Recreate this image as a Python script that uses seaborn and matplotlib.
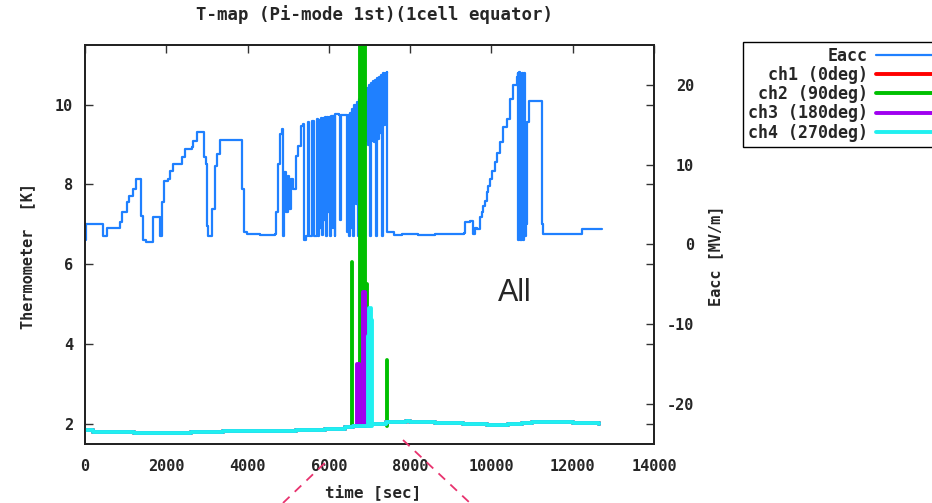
import pandas as pd
import seaborn as sns
import matplotlib.pyplot as plt
from matplotlib.lines import Line2D

# ----------------------------
# Data
# ----------------------------
eacc_t = [0, 25, 420, 440, 540, 545, 810, 860, 910, 1030, 1080, 1180, 1250, 1350,
          1380, 1430, 1500, 1650, 1670, 1800, 1845, 1895, 1945, 2040, 2090, 2165,
          2340, 2385, 2460, 2630, 2655, 2755, 2900, 2930, 2975, 3000, 3025, 3125,
          3200, 3250, 3320, 3840, 3860, 3910, 3985, 4300, 4675, 4700, 4750, 4800,
          4845, 4870, 4895, 4945, 4995, 5020, 5070, 5115, 5190, 5240, 5315, 5360,
          5385, 5435, 5485, 5510, 5585, 5630, 5710, 5740, 5760, 5790, 5810, 5840,
          5860, 5890, 5910, 5940, 5960, 5990, 6010, 6040, 6060, 6090, 6110, 6140,
          6160, 6260, 6270, 6290, 6440, 6450, 6470, 6490, 6510, 6540, 6570, 6600,
          6630, 6660, 6690, 6710, 6740, 6760, 6790, 6810, 6840, 6860, 6890, 6910,
          6940, 6960, 6990, 7010, 7040, 7060, 7090, 7110, 7140, 7160, 7190, 7210,
          7240, 7260, 7290, 7310, 7340, 7360, 7390, 7420, 7440, 7600, 7800, 8200,
          8600, 9330, 9350, 9470, 9545, 9595, 9645, 9715, 9765, 9790, 9840, 9890,
          9915, 9960, 10020, 10080, 10140, 10210, 10280, 10380, 10455, 10530, 10630, 10650, 10660,
          10680, 10700, 10720, 10740, 10760, 10780, 10800, 10820, 10840, 10860,
          10880, 10900, 10930, 11220, 11240, 11270, 12225, 12240, 12720]
eacc_v = [0.6, 2.5, 2.5, 1.1, 1.1, 2.1, 2.1, 2.8, 4.0, 5.3, 6.0, 6.9, 8.2, 8.2,
          3.5, 0.6, 0.3, 0.3, 3.4, 3.4, 1.0, 5.3, 7.9, 8.2, 9.2, 10.1,
          10.1, 10.9, 11.9, 12.2, 13.0, 14.1, 14.1, 10.9, 10.1, 2.3, 1.0, 4.4,
          9.8, 11.3, 13.1, 13.1, 6.9, 1.5, 1.3, 1.2, 1.3, 4.0, 10.1, 13.8,
          14.5, 1.0, 9.1, 4.0, 8.6, 4.4, 8.2, 6.9, 11.1, 12.3, 14.8, 15.1,
          0.6, 1.0, 15.3, 1.0, 15.5, 1.0, 15.7, 1.0, 15.6, 2.0, 15.8, 1.2,
          15.8, 3.0, 15.9, 1.0, 16.0, 4.0, 16.0, 1.0, 16.1, 2.0, 16.1, 1.0,
          16.3, 16.2, 3.0, 16.2, 16.2, 1.5, 16.2, 1.0, 16.5, 2.0, 17.0, 1.0,
          17.5, 5.0, 17.8, 1.0, 18.2, 12.0, 18.6, 13.0, 19.0, 1.0, 19.3, 13.0,
          19.6, 12.5, 19.9, 1.0, 20.2, 13.0, 20.4, 12.8, 20.6, 1.0, 20.8, 13.2,
          21.0, 14.0, 21.2, 1.0, 21.4, 15.0, 21.5, 21.6, 1.5, 1.2, 1.3, 1.2,
          1.3, 1.4, 2.8, 2.9, 1.3, 2.1, 1.9, 3.4, 4.1, 4.8, 5.4, 6.5,
          7.3, 8.2, 9.2, 10.3, 11.5, 12.8, 14.7, 15.7, 18.2, 19.9, 21.0, 21.4, 0.6,
          21.6, 0.6, 10.9, 0.6, 21.4, 0.6, 21.4, 1.0, 7.3, 2.5,
          15.3, 15.3, 18.0, 18.0, 2.5, 1.3, 1.3, 1.9, 1.9]

temp_t = [0, 200, 1200, 2600, 3400, 4400, 5200, 5900, 6400, 6600, 7000, 7400,
          7900, 8000, 8600, 9300, 9900, 10400, 10750, 11000, 11450, 12000, 12650]
temp_base = [1.84, 1.80, 1.78, 1.80, 1.82, 1.83, 1.84, 1.87, 1.92, 1.96, 2.00, 2.06,
             2.07, 2.05, 2.03, 2.00, 1.97, 1.99, 2.03, 2.06, 2.05, 2.02, 1.99]
spike_floor = 1.95

ch2_spike_t = [6570, 6770, 6795, 6820, 6845, 6870, 6900, 6930, 7430]
ch2_spike_T = [6.05, 12.0, 12.0, 12.0, 12.0, 12.0, 12.0, 5.5, 3.6]
ch3_spike_t = [6700, 6730, 6750, 6850, 6875, 6900, 6945, 6970]
ch3_spike_T = [3.5, 3.5, 3.5, 5.3, 5.3, 5.3, 4.0, 4.0]
ch4_spike_t = [6970, 7000, 7040, 7070]
ch4_spike_T = [4.2, 4.9, 4.9, 4.6]

channels = ["ch1 (0deg)", "ch2 (90deg)", "ch3 (180deg)", "ch4 (270deg)"]
spikes = {channels[0]: ([], []),
          channels[1]: (ch2_spike_t, ch2_spike_T),
          channels[2]: (ch3_spike_t, ch3_spike_T),
          channels[3]: (ch4_spike_t, ch4_spike_T)}
colors = {channels[0]: "#ff0000", channels[1]: "#00c000",
          channels[2]: "#a000f0", channels[3]: "#20f0f0"}
eacc_color = "#1f80ff"

# long table: baseline + spike segments per channel
rows = []
for ch in channels:
    for t, v in zip(temp_t, temp_base):
        rows.append((ch, ch + "_base", t, v))
    for i, (t, v) in enumerate(zip(*spikes[ch])):
        rows.append((ch, f"{ch}_s{i}", t, spike_floor))
        rows.append((ch, f"{ch}_s{i}", t, v))
temps = pd.DataFrame(rows, columns=["ch", "seg", "t", "T"])

# ----------------------------
# Plot
# ----------------------------
sns.set_style("white")
plt.rcParams["font.family"] = ["DejaVu Sans Mono"]
plt.rcParams["font.weight"] = "bold"
plt.rcParams["axes.unicode_minus"] = False

fig = plt.figure(figsize=(9.32, 5.03), dpi=100)
ax = fig.add_axes([0.0912, 0.1173, 0.6105, 0.7938])
ax2 = ax.twinx()

sns.lineplot(x=eacc_t, y=eacc_v, ax=ax2, color=eacc_color, linewidth=1.6,
             sort=False, estimator=None, drawstyle="steps-post")
sns.lineplot(data=temps, x="t", y="T", hue="ch", units="seg", estimator=None,
             sort=False, palette=colors, linewidth=2.8, legend=False, ax=ax,
             drawstyle="steps-post")

ax.set_zorder(ax2.get_zorder() + 1)
ax.patch.set_visible(False)

ax.set_xlim(0, 14000)
ax.set_ylim(1.5, 11.5)
ax2.set_ylim(-25, 25)
ax.set_xticks(range(0, 14001, 2000))
ax.set_yticks([2, 4, 6, 8, 10])
ax2.set_yticks([-20, -10, 0, 10, 20])
ax.set_xlabel("")
ax.set_ylabel("")
ax2.set_ylabel("")

ax.tick_params(direction="in", length=6, width=1, top=True, right=True,
               labelsize=11, color="#333333")
ax.tick_params(axis="x", pad=11)
ax.tick_params(axis="y", pad=8.5)
ax2.tick_params(direction="in", length=6, width=1, labelsize=11, pad=29,
                color="#333333", left=False)
for lbl in ax2.get_yticklabels():
    lbl.set_horizontalalignment("right")

for a in (ax, ax2):
    for sp in a.spines.values():
        sp.set_linewidth(1.3)
        sp.set_color("#222222")
        sp.set_visible(True)

fig.text(374 / 932, 1 - 15 / 503, "T-map (Pi-mode 1st)(1cell equator)",
         ha="center", va="center", fontsize=12.5)
fig.text(28 / 932, 1 - 256 / 503, "Thermometer  [K]", rotation=90,
         ha="center", va="center", fontsize=11)
fig.text(716 / 932, 1 - 256 / 503, "Eacc [MV/m]", rotation=90,
         ha="center", va="center", fontsize=11)
fig.text(373 / 932, 1 - 492 / 503, "time [sec]", ha="center", va="center",
         fontsize=11.5)
fig.text(498 / 932, 1 - 301 / 503, "All", ha="left", va="baseline",
         fontsize=22, fontweight="normal", family="Liberation Sans")

# legend (gnuplot style: text then sample)
handles = [Line2D([], [], color=eacc_color, lw=1.6)] + \
          [Line2D([], [], color=colors[c], lw=2.8) for c in channels]
labels = ["Eacc"] + channels
fig.legend(handles, labels, loc="upper left",
           bbox_to_anchor=(743 / 932, 1 - 42 / 503), markerfirst=False,
           frameon=True, fancybox=False, edgecolor="black", framealpha=1,
           prop={"family": "DejaVu Sans Mono", "weight": "bold", "size": 12},
           handlelength=3.4, handletextpad=0.5, labelspacing=0.07,
           borderpad=0.3, borderaxespad=0)

# pink dashed zoom guides
pink = "#e8326e"
fig.add_artist(Line2D([283 / 932, 330 / 932], [0.0, 1 - 458 / 503],
                      transform=fig.transFigure, color=pink, lw=1.3,
                      linestyle=(0, (5, 4))))
fig.add_artist(Line2D([403 / 932, 470 / 932], [1 - 440 / 503, 0.0],
                      transform=fig.transFigure, color=pink, lw=1.3,
                      linestyle=(0, (5, 4))))

fig.savefig("out.png", dpi=100)
plt.close()
